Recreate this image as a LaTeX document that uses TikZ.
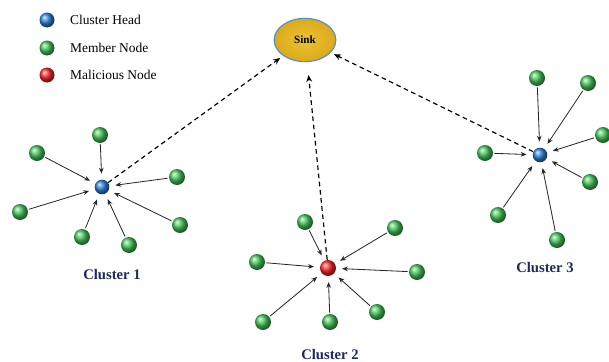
\documentclass[tikz,border=0pt]{standalone}
\usepackage{fontspec}
\setmainfont{Liberation Serif}
\usetikzlibrary{shapes.geometric, arrows.meta}

\definecolor{sinkgold}{RGB}{218,170,28}
\definecolor{sinklight}{RGB}{236,194,52}
\definecolor{sinkedge}{RGB}{80,140,200}
\definecolor{labelblue}{RGB}{28,42,92}
\definecolor{ballgreen}{RGB}{70,200,90}
\definecolor{ballblue}{RGB}{45,130,220}
\definecolor{ballred}{RGB}{250,40,40}

\begin{document}
\begin{tikzpicture}[x=0.03cm, y=-0.03cm,
  member/.style={circle, ball color=ballgreen, minimum size=0.48cm, inner sep=0pt},
  head/.style={circle, ball color=ballblue, minimum size=0.44cm, inner sep=0pt},
  malicious/.style={circle, ball color=ballred, minimum size=0.48cm, inner sep=0pt},
  sink/.style={ellipse, draw=sinkedge, line width=0.9pt, inner color=sinklight, outer color=sinkgold, minimum width=1.85cm, minimum height=1.3cm, font=\fontsize{9.5}{11}\selectfont\bfseries},
  legend/.style={anchor=west, font=\fontsize{11.5}{13}\selectfont},
  clabel/.style={font=\fontsize{12.5}{14}\selectfont\bfseries, text=labelblue},
  link/.style={-{Stealth[length=5pt,width=4pt]}, line width=0.7pt, draw=black!85, shorten >=5pt, shorten <=1pt},
  uplink/.style={-{Stealth[length=6pt,width=5pt]}, dashed, line width=1pt, dash pattern=on 4pt off 3pt, shorten >=3pt}
]
\useasboundingbox (0,0) rectangle (609,362);

% legend
\node[head, minimum size=0.45cm] (keyhead) at (47,20) {};
\node[member, minimum size=0.45cm] (keymember) at (47,48) {};
\node[malicious, minimum size=0.45cm] (keybad) at (47,75) {};
\node[legend] at (66,20) {Cluster Head};
\node[legend] at (66,48) {Member Node};
\node[legend] at (66,75) {Malicious Node};

% sink
\node[sink] (sink) at (305,40) {Sink};

% cluster 1
\node[head] (h1) at (102,187) {};
\node[member] (a1) at (100,135) {};
\node[member] (a2) at (37,153) {};
\node[member] (a3) at (177,177) {};
\node[member] (a4) at (20,212) {};
\node[member] (a5) at (180,225) {};
\node[member] (a6) at (82,237) {};
\node[member] (a7) at (129,245) {};
\node[clabel] (l1) at (112,275) {Cluster 1};

\draw[link] (a1) -- (h1);
\draw[link] (a2) -- (h1);
\draw[link] (a3) -- (h1);
\draw[link] (a4) -- (h1);
\draw[link] (a5) -- (h1);
\draw[link] (a6) -- (h1);
\draw[link] (a7) -- (h1);

% cluster 2
\node[malicious] (h2) at (328,268) {};
\node[member] (b1) at (305,222) {};
\node[member] (b2) at (395,228) {};
\node[member] (b3) at (257,262) {};
\node[member] (b4) at (417,272) {};
\node[member] (b5) at (263,322) {};
\node[member] (b6) at (330,322) {};
\node[member] (b7) at (377,312) {};
\node[clabel] (l2) at (330,355) {Cluster 2};

\draw[link] (b1) -- (h2);
\draw[link] (b2) -- (h2);
\draw[link] (b3) -- (h2);
\draw[link] (b4) -- (h2);
\draw[link] (b5) -- (h2);
\draw[link] (b6) -- (h2);
\draw[link] (b7) -- (h2);

% cluster 3
\node[head] (h3) at (540,155) {};
\node[member] (c1) at (537,78) {};
\node[member] (c2) at (588,83) {};
\node[member] (c3) at (603,135) {};
\node[member] (c4) at (485,153) {};
\node[member] (c5) at (590,182) {};
\node[member] (c6) at (498,215) {};
\node[member] (c7) at (557,240) {};
\node[clabel] (l3) at (545,268) {Cluster 3};

\draw[link] (c1) -- (h3);
\draw[link] (c2) -- (h3);
\draw[link] (c3) -- (h3);
\draw[link] (c4) -- (h3);
\draw[link] (c5) -- (h3);
\draw[link] (c6) -- (h3);
\draw[link] (c7) -- (h3);

% heads to sink
\draw[uplink] (h1) -- (sink);
\draw[uplink, shorten >=11pt] (h2) -- (sink);
\draw[uplink] (h3) -- (sink);
\end{tikzpicture}
\end{document}
